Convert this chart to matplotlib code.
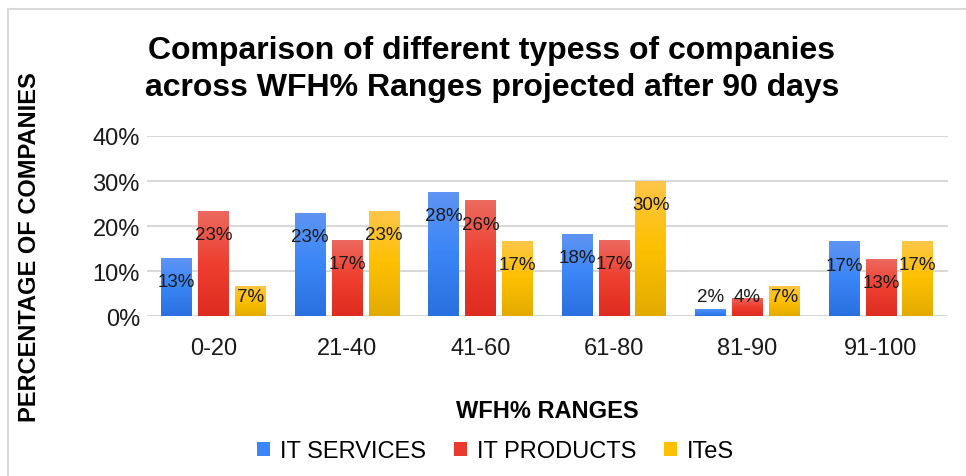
import matplotlib
matplotlib.use("Agg")
import matplotlib.pyplot as plt
import numpy as np
from matplotlib.colors import LinearSegmentedColormap
from matplotlib.patches import Patch
from matplotlib.lines import Line2D

plt.rcParams["font.family"] = ["Liberation Sans", "DejaVu Sans"]

# WFH% ranges and share of companies (%) in each
ranges = ["0-20", "21-40", "41-60", "61-80", "81-90", "91-100"]
it_services = [13.0, 23.0, 27.6, 18.3, 1.6, 16.6]
it_products = [23.4, 17.0, 25.7, 17.0, 4.1, 12.7]
ites = [6.7, 23.4, 16.7, 30.1, 6.7, 16.7]

series = [
    ("IT SERVICES", it_services, ["#2a6fdf", "#3a86f7", "#6094f2"], "#3a86f7"),
    ("IT PRODUCTS", it_products, ["#de2c20", "#ee3f30", "#ec6a60"], "#ea3a2e"),
    ("ITeS", ites, ["#e2ab00", "#fdc000", "#fec64a"], "#fcc000"),
]

fig = plt.figure(figsize=(9.66, 4.77), dpi=100)
ax = fig.add_axes([0.152, 0.3348, 0.829, 0.378])

x = np.arange(len(ranges))
width = 0.23
step = 0.276

grad = np.linspace(0, 1, 256).reshape(-1, 1)
handles = []
for i, (name, vals, cols, solid) in enumerate(series):
    cmap = LinearSegmentedColormap.from_list(name, cols)
    bars = ax.bar(x + (i - 1) * step, vals, width, color="none", edgecolor="none", zorder=2)
    for b, v in zip(bars, vals):
        x0, y0 = b.get_x(), b.get_y()
        im = ax.imshow(grad, cmap=cmap, aspect="auto", origin="lower",
                       extent=[x0, x0 + b.get_width(), y0, y0 + b.get_height()], zorder=2)
        im.set_clip_path(b)
        ax.text(b.get_x() + b.get_width() / 2, max(v - 5.3, 4.3), f"{round(v)}%",
                ha="center", va="center", fontsize=13.5, color="#1a1a1a", zorder=3)
    handles.append(Patch(facecolor=solid, label=name))

ax.set_xlim(-0.5, len(ranges) - 0.5)
ax.set_ylim(0, 40)
ax.set_yticks([0, 10, 20, 30, 40])
ax.set_yticklabels([f"{t}%" for t in [0, 10, 20, 30, 40]])
ax.set_xticks(x)
ax.set_xticklabels(ranges)
ax.tick_params(length=0, labelsize=17, colors="#1a1a1a", pad=5)
ax.tick_params(axis="x", pad=15)
ax.grid(axis="y", color="#d9d9d9", linewidth=1.5, zorder=0)
ax.set_axisbelow(True)
for s in ax.spines.values():
    s.set_visible(False)

ax.set_xlabel("WFH% RANGES", fontsize=17, fontweight="bold", labelpad=29)
fig.text(0.031, 0.482, "PERCENTAGE OF COMPANIES", rotation=90, fontsize=17,
         fontweight="bold", ha="center", va="center")

fig.text(0.509, 0.855, "Comparison of different typess of companies\n"
         "across WFH% Ranges projected after 90 days",
         ha="center", va="center", fontsize=23, fontweight="bold", linespacing=1.3)

fig.legend(handles=handles, loc="center", bbox_to_anchor=(0.513, 0.052), ncol=3,
           frameon=False, fontsize=17, handlelength=0.55, handleheight=0.55,
           handletextpad=0.4, columnspacing=1.2)

# light frame round the chart area
fig.add_artist(Line2D([0.008, 1.0], [0.979, 0.979], color="#d9d9d9", linewidth=1.5))
fig.add_artist(Line2D([0.008, 0.008], [0.0, 0.979], color="#d9d9d9", linewidth=1.5))

fig.savefig("out.png", dpi=100)
